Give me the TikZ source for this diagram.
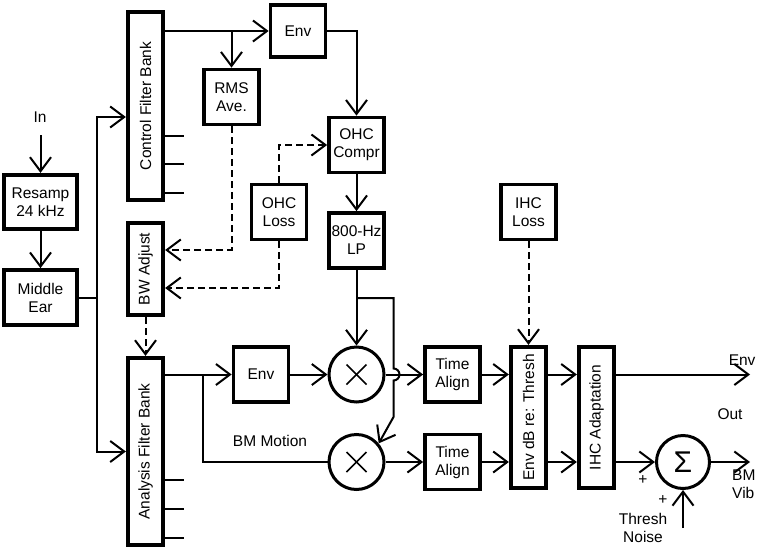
\documentclass[tikz,border=0pt]{standalone}
\usepackage{fontspec}
\setmainfont{Liberation Sans}
\usepackage{graphicx}
\usetikzlibrary{arrows.meta}
\begin{document}
\begin{tikzpicture}[x=1pt,y=-1pt,
 every node/.style={font=\fontsize{15.5}{18}\selectfont},
 box/.style={draw, line width=3.8pt, inner sep=0pt, align=center},
 sq/.style={box, minimum width=55pt, minimum height=55pt},
 vbar/.style={box, minimum width=35.5pt},
 circ/.style={draw, circle, line width=3pt, minimum size=55pt, inner sep=0pt},
 sig/.style={line width=2pt},
 arr/.style={sig, -{Straight Barb[length=14pt,width=21pt]}},
 darr/.style={arr, dash pattern=on 7pt off 4pt},
 xmark/.style={line width=1.6pt}
]
\useasboundingbox (0,0) rectangle (760,549);

% nodes
\node[box, minimum width=73.5pt, minimum height=54.5pt] (resamp) at (40.5,202) {Resamp\\24 kHz};
\node[box, minimum width=73.5pt, minimum height=55pt] (mid) at (40.5,297.5) {Middle\\Ear};
\node[vbar, minimum height=188.5pt] (cfb) at (145.5,106) {\rotatebox{90}{Control Filter Bank}};
\node[vbar, minimum height=92.5pt] (bwa) at (145.5,269) {\rotatebox{90}{BW Adjust}};
\node[vbar, minimum height=187.5pt] (afb) at (145.5,451.5) {\rotatebox{90}{Analysis Filter Bank}};
\node[sq, minimum height=52.5pt] (env1) at (298,31) {Env};
\node[sq] (rms) at (231.5,97) {RMS\\Ave.};
\node[sq] (ohcc) at (356.5,145) {OHC\\Compr};
\node[sq] (ohcl) at (279,212) {OHC\\Loss};
\node[sq] (lp) at (356.5,240.5) {800-Hz\\LP};
\node[sq] (ihcl) at (528.5,212) {IHC\\Loss};
\node[sq] (env2) at (261,374.5) {Env};
\node[circ] (mul1) at (356.5,374.5) {};
\node[circ] (mul2) at (356.5,462) {};
\node[sq] (ta1) at (452.5,374.5) {Time\\Align};
\node[sq] (ta2) at (452.5,462) {Time\\Align};
\node[vbar, minimum height=141.5pt] (envdb) at (528.5,417.5) {\rotatebox{90}{Env dB re: Thresh}};
\node[vbar, minimum height=141.5pt] (ihca) at (596.5,417.5) {\rotatebox{90}{IHC Adaptation}};
\node[circ, minimum size=53pt] (sum) at (683,462) {\fontsize{30}{30}\selectfont Σ};

% multiplication marks
\foreach \m in {mul1,mul2} {
  \draw[xmark] ([shift={(-10pt,-10pt)}]\m.center) -- ([shift={(10pt,10pt)}]\m.center);
  \draw[xmark] ([shift={(-10pt,10pt)}]\m.center) -- ([shift={(10pt,-10pt)}]\m.center);
}

% input
\node (in) at (40,117) {In};
\coordinate (inpt) at (40.5,135);
\draw[arr] (inpt) -- (resamp);
\draw[arr] (resamp) -- (mid);
\coordinate (sp) at (97,297.5);
\draw[sig] (mid.east) -- (sp);
\draw[arr] (sp) |- ([yshift=-11pt]cfb.west);
\draw[arr] (sp) |- (afb.west);

% filter bank stubs
\foreach \d in {30,58,87} \draw[sig] ([yshift=-\d pt]cfb.east) -- ++(19,0);
\foreach \d in {28.5,57.5,86.5} \draw[sig] ([yshift=-\d pt]afb.east) -- ++(19,0);

% control path
\draw[arr] (cfb.east |- env1.west) -- (env1.west);
\coordinate (b1) at (rms.north |- env1.west);
\draw[arr] (b1) -- (rms.north);
\draw[arr] (env1.east) -| (ohcc.north);
\draw[arr] (ohcc) -- (lp);
\draw[darr] (rms.south) |- ([yshift=19pt]bwa.east);
\draw[darr] (ohcl.south) |- ([yshift=-19pt]bwa.east);
\draw[darr] (ohcl.north) |- (ohcc.west);
\draw[darr] (bwa) -- (afb);
\draw[darr] (ihcl.south) -- (envdb.north);

% LP to multipliers
\draw[arr] (lp.south) -- (mul1.north);
\coordinate (lpb) at (356.5,298);
\draw[arr] (lpb) -- (393.5,298) -- (393.5,368.5) arc[start angle=90,end angle=-90,radius=6pt] -- (393.5,417) -- (mul2.40);

% analysis path
\draw[arr] (afb.east |- env2.west) -- (env2.west);
\coordinate (b2) at (203,374.5);
\draw[sig] (b2) |- (mul2.west);
\node at (270,441) {BM Motion};
\draw[arr] (env2) -- (mul1);
\draw[arr] (mul1) -- (ta1);
\draw[arr] (mul2) -- (ta2);
\draw[arr] (ta1) -- (envdb.west |- ta1);
\draw[arr] (ta2) -- (envdb.west |- ta2);
\draw[arr] (envdb.east |- ta1) -- (ihca.west |- ta1);
\draw[arr] (envdb.east |- ta2) -- (ihca.west |- ta2);
\coordinate (o1) at (750,374.5);
\draw[arr] (ihca.east |- ta1) -- (o1);
\draw[arr] (ihca.east |- sum) -- (sum);
\coordinate (o2) at (750,462);
\draw[arr] (sum) -- (o2);
\coordinate (tn) at (683,528);
\draw[arr] (tn) -- (sum);

% labels
\node[anchor=east] at (759,360) {Env};
\node at (730,414) {Out};
\node[anchor=east, align=left] at (759,484) {BM\\Vib};
\node at (643,480) {+};
\node at (663,500) {+};
\node[align=center] at (643,528) {Thresh\\Noise};
\end{tikzpicture}
\end{document}
